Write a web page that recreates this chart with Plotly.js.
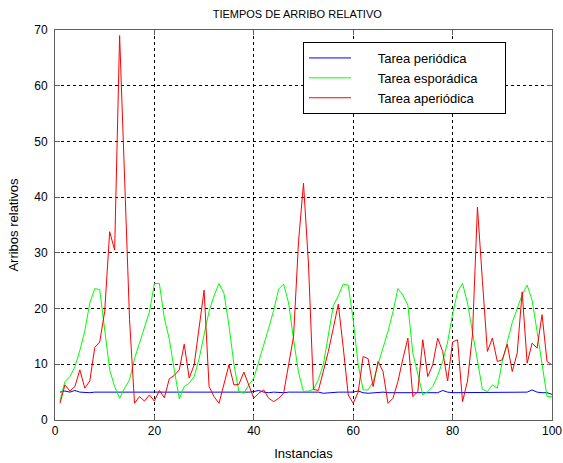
<!DOCTYPE html>
<html>
<head>
<meta charset="utf-8">
<script src="https://cdn.plot.ly/plotly-3.0.1.min.js"></script>
<style>html,body{margin:0;padding:0;background:#fff;}#chart{width:563px;height:463px;}</style>
</head>
<body>
<div id="chart"></div>
<script>
var instancias = [];
for (var i = 1; i <= 100; i++) instancias.push(i);

var periodica = [5.0,5.2,5.0,5.3,5.0,4.9,4.9,5.0,5.0,5.0,
                 5.0,4.9,5.0,5.0,4.9,4.9,4.9,5.0,4.9,5.0,
                 5.0,5.0,5.0,5.0,4.9,4.9,4.9,5.0,5.0,5.0,
                 5.0,4.9,5.0,5.0,4.9,5.0,5.0,4.9,5.0,5.1,
                 5.3,5.0,4.9,5.0,4.9,4.9,5.0,5.0,5.0,4.9,
                 4.9,4.9,5.0,4.8,4.9,5.0,5.0,5.0,5.0,5.0,
                 5.2,4.9,4.8,4.9,5.0,5.0,4.9,4.9,5.0,5.0,
                 5.0,5.0,4.9,4.9,5.0,5.0,4.9,5.3,5.0,4.9,
                 4.9,5.0,5.0,4.9,5.0,5.0,5.0,4.9,5.0,5.0,
                 5.0,5.0,5.0,4.9,5.0,5.4,5.0,4.9,4.9,4.6];

var esporadica = [3.5,6.9,7.8,9.5,12.5,16.0,21.0,23.6,23.4,16.5,
                  9.0,6.0,3.9,5.7,7.2,11.0,13.8,17.0,19.4,24.5,
                  24.5,18.3,14.5,9.0,3.8,6.0,6.6,7.8,11.0,15.3,
                  19.5,22.3,24.5,22.7,17.0,10.0,5.1,4.8,6.3,7.5,
                  10.5,13.2,16.5,19.7,23.5,24.4,21.0,14.5,8.5,5.1,
                  5.2,5.5,7.3,10.0,15.0,20.5,22.3,24.4,24.2,18.0,
                  9.9,5.4,5.4,6.8,10.0,12.9,15.9,19.4,23.6,22.4,
                  20.6,12.0,8.4,4.5,5.1,6.0,8.0,10.5,14.0,19.0,
                  23.0,24.5,21.0,16.0,10.5,5.5,5.1,6.3,5.7,10.5,
                  14.0,17.5,20.0,22.5,24.2,21.5,15.9,9.9,4.2,4.2];

var aperiodica = [3.0,6.3,5.2,6.0,9.0,5.7,7.0,13.0,14.0,19.5,
                  33.8,30.5,69.0,45.0,18.0,3.0,4.2,3.4,4.5,3.4,
                  5.3,4.0,7.4,8.0,9.0,13.6,7.5,9.9,17.0,23.3,
                  6.0,4.2,3.0,6.3,9.9,6.3,6.4,8.6,6.4,3.9,
                  4.8,5.4,3.9,3.3,3.9,4.8,9.9,15.0,32.0,42.5,
                  28.0,5.5,5.3,8.7,12.3,16.5,20.8,13.0,4.5,3.0,
                  5.0,11.4,11.0,6.0,10.5,8.7,3.0,3.9,6.9,11.0,
                  14.7,4.2,5.1,14.4,7.8,9.9,14.7,12.3,7.0,14.0,
                  14.4,3.3,7.0,15.3,38.2,25.0,12.3,14.7,10.5,10.8,
                  13.6,8.7,12.0,23.0,10.2,13.8,12.9,18.9,10.5,9.9];

var nombres = ['Tarea periódica', 'Tarea esporádica', 'Tarea aperiódica'];
var colores = ['#0000ff', '#00ff00', '#ff0000'];
var series = [periodica, esporadica, aperiodica];

var lead = '\u00a0\u00a0\u00a0\u00a0\u00a0\u00a0';
var trail = '\u00a0\u00a0\u00a0\u00a0\u00a0\u00a0';
var traces = series.map(function (s, k) {
  return {
    x: instancias, y: s, type: 'scatter', mode: 'lines',
    name: lead + nombres[k] + trail,
    line: {color: colores[k], width: 1}
  };
});

var fam = 'Arial, "Liberation Sans", sans-serif';
var fuente = {family: fam, size: 12, color: '#000'};
var fuenteTit = {family: fam, size: 13, color: '#000'};

var layout = {
  width: 563, height: 463,
  margin: {l: 55, r: 11, t: 30, b: 43, pad: 0},
  paper_bgcolor: '#fff', plot_bgcolor: '#fff',
  font: fuente,
  showlegend: true,
  title: {text: 'TIEMPOS DE ARRIBO RELATIVO', font: {family: fam, size: 11, color: '#000'},
          xref: 'container', x: 0.528, xanchor: 'center', yref: 'container', y: 0.97, yanchor: 'middle'},
  xaxis: {
    range: [0, 100], tickvals: [0, 20, 40, 60, 80, 100], ticktext: ['0','20','40','60','80','100'],
    showgrid: true, gridcolor: '#000', gridwidth: 1, griddash: 'dot',
    zeroline: false, showline: true, linecolor: '#606060', linewidth: 1, mirror: 'ticks',
    ticks: 'inside', ticklen: 5, tickcolor: '#606060',
    tickfont: fuente, automargin: false,
    title: {text: 'Instancias', font: fuenteTit, standoff: 11}
  },
  yaxis: {
    range: [0, 70], tickvals: [0,10,20,30,40,50,60,70], ticktext: ['0','10','20','30','40','50','60','70'],
    showgrid: true, gridcolor: '#000', gridwidth: 1, griddash: 'dot',
    zeroline: false, showline: true, linecolor: '#606060', linewidth: 1, mirror: 'ticks',
    ticks: 'inside', ticklen: 5, tickcolor: '#606060',
    tickfont: fuente, automargin: false, ticklabelstandoff: 4,
    title: {text: 'Arribos relativos', font: fuenteTit, standoff: 12}
  },
  legend: {
    x: (303 - 55) / 497, y: (420 - 42) / 390, xanchor: 'left', yanchor: 'top',
    xref: 'paper', yref: 'paper',
    bgcolor: '#fff', bordercolor: '#000', borderwidth: 1,
    font: {family: fam, size: 13, color: '#000'},
    tracegroupgap: 0, itemwidth: 42
  }
};

Plotly.newPlot('chart', traces, layout, {displayModeBar: false, staticPlot: true});
</script>
</body>
</html>
